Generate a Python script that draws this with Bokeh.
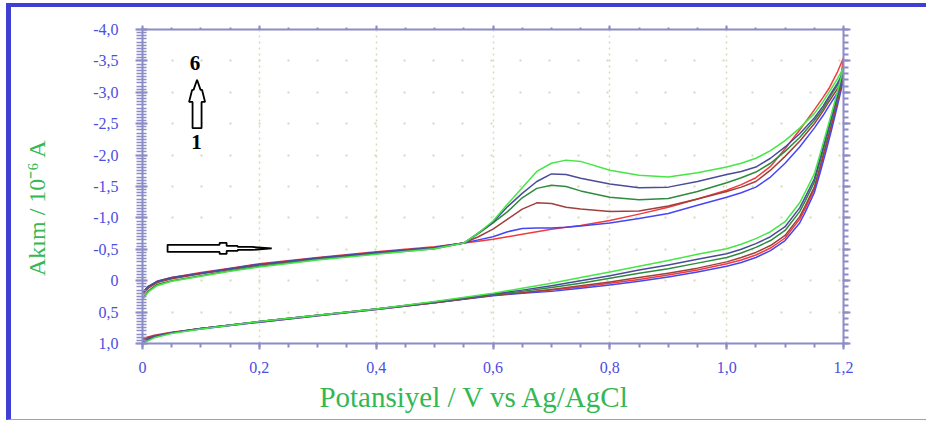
from bokeh.plotting import figure
from bokeh.models import (Range1d, LinearAxis, FixedTicker, Label, CustomJSTickFormatter,
                          CustomLabelingPolicy)
from bokeh.embed import file_html
from bokeh.resources import INLINE
import numpy as np

# Potential grid (V vs Ag/AgCl) for the anodic (forward) and cathodic (reverse) sweeps
potential_fwd = [0.0, 0.01, 0.025, 0.05, 0.1, 0.15, 0.2, 0.3, 0.4, 0.5, 0.55, 0.575, 0.6, 0.625,
                 0.65, 0.675, 0.7, 0.725, 0.75, 0.8, 0.85, 0.9, 0.95, 1.0, 1.025, 1.05, 1.075,
                 1.1, 1.125, 1.15, 1.165, 1.175, 1.19, 1.2]
potential_rev = [1.2, 1.19, 1.18, 1.17, 1.16, 1.15, 1.135, 1.125, 1.1, 1.075, 1.05, 1.025, 1.0,
                 0.95, 0.9, 0.85, 0.8, 0.75, 0.7, 0.65, 0.6, 0.5, 0.4, 0.3, 0.2, 0.1, 0.05, 0.02, 0.0]

# Current (10^-6 A) for the six successive cycles, forward sweep
fwd_c1 = [0.19, 0.09, 0.01, -0.05, -0.13, -0.20, -0.27, -0.37, -0.46, -0.54, -0.60, -0.63, -0.66,
          -0.70, -0.74, -0.78, -0.82, -0.85, -0.88, -0.96, -1.06, -1.17, -1.30, -1.44, -1.53, -1.64,
          -1.82, -2.10, -2.40, -2.72, -2.92, -3.06, -3.33, -3.55]
fwd_c2 = [0.20, 0.10, 0.02, -0.04, -0.12, -0.19, -0.26, -0.36, -0.45, -0.53, -0.60, -0.65, -0.70,
          -0.78, -0.83, -0.84, -0.84, -0.85, -0.87, -0.92, -0.99, -1.07, -1.20, -1.33, -1.40, -1.49,
          -1.65, -1.87, -2.13, -2.43, -2.63, -2.78, -3.00, -3.20]
fwd_c3 = [0.22, 0.12, 0.03, -0.03, -0.11, -0.18, -0.25, -0.35, -0.44, -0.52, -0.60, -0.70, -0.82,
          -0.98, -1.14, -1.24, -1.23, -1.17, -1.14, -1.10, -1.11, -1.19, -1.30, -1.42, -1.49, -1.58,
          -1.76, -1.98, -2.22, -2.50, -2.70, -2.85, -3.06, -3.25]
fwd_c4 = [0.28, 0.16, 0.06, 0.00, -0.08, -0.16, -0.23, -0.34, -0.43, -0.51, -0.60, -0.75, -0.92,
          -1.10, -1.32, -1.47, -1.52, -1.50, -1.43, -1.33, -1.29, -1.31, -1.42, -1.56, -1.64, -1.73,
          -1.87, -2.06, -2.28, -2.55, -2.74, -2.90, -3.12, -3.31]
fwd_c5 = [0.19, 0.09, 0.01, -0.05, -0.12, -0.19, -0.26, -0.36, -0.45, -0.53, -0.60, -0.76, -0.93,
          -1.18, -1.39, -1.58, -1.70, -1.69, -1.63, -1.54, -1.48, -1.49, -1.58, -1.69, -1.74, -1.81,
          -1.95, -2.13, -2.34, -2.59, -2.78, -2.93, -3.15, -3.33]
fwd_c6 = [0.30, 0.18, 0.08, 0.01, -0.07, -0.15, -0.22, -0.33, -0.42, -0.51, -0.60, -0.76, -0.95,
          -1.22, -1.48, -1.74, -1.87, -1.92, -1.90, -1.76, -1.68, -1.65, -1.72, -1.81, -1.87, -1.95,
          -2.07, -2.23, -2.43, -2.66, -2.85, -3.00, -3.22, -3.39]

# Reverse sweep
rev_c1 = [-3.55, -2.86, -2.48, -2.13, -1.78, -1.45, -1.16, -0.98, -0.68, -0.52, -0.41, -0.33, -0.27,
          -0.17, -0.09, -0.02, 0.04, 0.10, 0.15, 0.19, 0.23, 0.35, 0.46, 0.56, 0.66, 0.76, 0.82, 0.87, 0.92]
rev_c2 = [-3.20, -2.80, -2.42, -2.06, -1.72, -1.40, -1.10, -0.92, -0.64, -0.48, -0.37, -0.29, -0.23,
          -0.14, -0.06, 0.01, 0.07, 0.12, 0.17, 0.20, 0.24, 0.35, 0.46, 0.56, 0.66, 0.77, 0.83, 0.88, 0.93]
rev_c3 = [-3.25, -2.87, -2.51, -2.17, -1.82, -1.49, -1.20, -1.02, -0.72, -0.56, -0.45, -0.37, -0.30,
          -0.20, -0.12, -0.05, 0.02, 0.08, 0.14, 0.19, 0.23, 0.35, 0.45, 0.55, 0.65, 0.76, 0.83, 0.88, 0.93]
rev_c4 = [-3.31, -2.93, -2.58, -2.24, -1.90, -1.57, -1.28, -1.10, -0.80, -0.64, -0.53, -0.44, -0.37,
          -0.28, -0.19, -0.12, -0.04, 0.04, 0.11, 0.17, 0.22, 0.34, 0.45, 0.55, 0.65, 0.76, 0.83, 0.90, 0.98]
rev_c5 = [-3.33, -2.96, -2.62, -2.29, -1.95, -1.62, -1.34, -1.16, -0.86, -0.70, -0.59, -0.50, -0.43,
          -0.34, -0.25, -0.17, -0.08, 0.00, 0.08, 0.15, 0.21, 0.34, 0.45, 0.55, 0.65, 0.76, 0.83, 0.89, 0.96]
rev_c6 = [-3.39, -3.02, -2.68, -2.35, -2.02, -1.70, -1.42, -1.24, -0.94, -0.78, -0.67, -0.58, -0.51,
          -0.42, -0.32, -0.23, -0.14, -0.05, 0.04, 0.12, 0.20, 0.33, 0.45, 0.55, 0.65, 0.77, 0.84, 0.91, 1.00]

cycle_colors = ["#f03c3c", "#4646f5", "#a0403c", "#2e8b3e", "#4b4b9b", "#46e646"]

x_major = [0.0, 0.2, 0.4, 0.6, 0.8, 1.0, 1.2]
y_major = [-4.0, -3.5, -3.0, -2.5, -2.0, -1.5, -1.0, -0.5, 0.0, 0.5, 1.0]

AXIS_COL = "#8c8cc8"
TICK_TXT = "#4d4de0"
LABEL_COL = "#33b854"
GRID_COL = "#d4dbb8"
FRAME_BLUE = "#3f3fd2"

p = figure(width=920, height=417,
           x_range=Range1d(0, 1.2), y_range=Range1d(1.0, -4.0),
           output_backend="svg", toolbar_location=None,
           min_border_left=131, min_border_right=88, min_border_top=22, min_border_bottom=81,
           background_fill_color="white", border_fill_color="white")
p.outline_line_color = None
p.styles = {"margin-left": "6px", "margin-top": "3px",
            "border-left": f"5px solid {FRAME_BLUE}",
            "border-top": f"4px solid {FRAME_BLUE}",
            "border-bottom": "1px solid #9a9ae8"}

fmt = CustomJSTickFormatter(code="""
    if (Math.abs(tick) < 1e-9) { return "0"; }
    return tick.toFixed(1).replace(".", ",");
""")

# frame axes on the top and right carry ticks only
no_labels = CustomLabelingPolicy(code="""
    for (let i = 0; i < indices.size; i++) { indices.unset(i) }
    return indices
""")

x_minor = [round(v, 2) for v in np.arange(0, 1.2001, 0.05)]
y_minor_fine = [round(v, 2) for v in np.arange(-4.0, 1.0001, 0.05)]
y_minor_coarse = [round(v, 2) for v in np.arange(-4.0, 1.0001, 0.1)]

# Bottom axis
xa = p.xaxis[0]
xa.ticker = FixedTicker(ticks=x_major, minor_ticks=x_minor)
xa.formatter = fmt
xa.axis_label = "Potansiyel / V vs Ag/AgCl" + "\u00a0" * 5
xa.axis_label_text_font = "Liberation Serif"
xa.axis_label_text_font_style = "normal"
xa.axis_label_text_font_size = "29px"
xa.axis_label_text_color = LABEL_COL
xa.axis_label_standoff = 5
xa.major_label_text_font = "Liberation Serif"
xa.major_label_text_font_size = "16px"
xa.major_label_text_color = TICK_TXT
xa.major_label_standoff = 12
xa.axis_line_color = AXIS_COL
xa.axis_line_width = 2
xa.major_tick_line_color = AXIS_COL
xa.minor_tick_line_color = AXIS_COL
xa.major_tick_line_width = 2
xa.minor_tick_line_width = 2
xa.major_tick_out = 6
xa.major_tick_in = 1
xa.minor_tick_out = 4
xa.minor_tick_in = 0

# Left axis
ya = p.yaxis[0]
ya.ticker = FixedTicker(ticks=y_major, minor_ticks=y_minor_fine)
ya.formatter = fmt
ya.axis_label = "Akım / 10⁻⁶ A" + "\u00a0" * 7
ya.axis_label_text_font = "Liberation Serif"
ya.axis_label_text_font_style = "normal"
ya.axis_label_text_font_size = "24px"
ya.axis_label_text_color = LABEL_COL
ya.axis_label_standoff = 40
ya.major_label_text_font = "Liberation Serif"
ya.major_label_text_font_size = "16px"
ya.major_label_text_color = TICK_TXT
ya.major_label_standoff = 17
ya.axis_line_color = AXIS_COL
ya.axis_line_width = 2
ya.major_tick_line_color = AXIS_COL
ya.minor_tick_line_color = AXIS_COL
ya.major_tick_line_width = 2
ya.minor_tick_line_width = 1.5
ya.major_tick_out = 7
ya.major_tick_in = 5
ya.minor_tick_out = 6
ya.minor_tick_in = 4

ra = LinearAxis(ticker=FixedTicker(ticks=y_major, minor_ticks=y_minor_coarse),
                major_label_policy=no_labels,
                major_label_text_font_size="0px", major_label_standoff=0,
                axis_line_color=AXIS_COL, axis_line_width=2,
                major_tick_line_color=AXIS_COL, minor_tick_line_color=AXIS_COL,
                major_tick_line_width=2, minor_tick_line_width=2,
                major_tick_out=7, major_tick_in=1, minor_tick_out=5, minor_tick_in=0)
p.add_layout(ra, "right")
ta = LinearAxis(ticker=FixedTicker(ticks=x_major, minor_ticks=x_minor),
                major_label_policy=no_labels,
                major_label_text_font_size="0px", major_label_standoff=0,
                axis_line_color=AXIS_COL, axis_line_width=2,
                major_tick_line_color=AXIS_COL, minor_tick_line_color=AXIS_COL,
                major_tick_line_width=2, minor_tick_line_width=2,
                major_tick_out=4, major_tick_in=0, minor_tick_out=2, minor_tick_in=0)
p.add_layout(ta, "above")

# Dotted grid
p.xgrid.ticker = FixedTicker(ticks=x_major)
p.xgrid.grid_line_color = GRID_COL
p.xgrid.grid_line_dash = "2 4"
p.xgrid.grid_line_width = 1.5
p.ygrid.ticker = FixedTicker(ticks=y_major)
p.ygrid.grid_line_color = GRID_COL
p.ygrid.grid_line_dash = "2 27"
p.ygrid.grid_line_width = 2

# Voltammograms: each cycle is the forward sweep followed by the reverse sweep
fwd_all = [fwd_c1, fwd_c2, fwd_c3, fwd_c4, fwd_c5, fwd_c6]
rev_all = [rev_c1, rev_c2, rev_c3, rev_c4, rev_c5, rev_c6]
for fwd, rev, col in zip(fwd_all, rev_all, cycle_colors):
    p.line(potential_fwd + potential_rev[1:], fwd + rev[1:], line_color=col, line_width=1.5,
           line_join="round")

# Scan-direction arrow (hollow, pointing right)
harrow_x = [0.0429, 0.1320, 0.1320, 0.1440, 0.1440, 0.1629, 0.1629, 0.1869, 0.2212,
            0.1869, 0.1629, 0.1629, 0.1440, 0.1440, 0.1320, 0.1320, 0.0429]
harrow_y = [-0.571, -0.571, -0.603, -0.603, -0.554, -0.554, -0.538, -0.538, -0.514,
            -0.490, -0.490, -0.474, -0.474, -0.426, -0.426, -0.458, -0.458]
p.patch(harrow_x, harrow_y, fill_color="white", line_color="black", line_width=1.8)

# Cycle-growth arrow 1 -> 6
varrow_x = [0.0934, 0.0994, 0.1020, 0.1071, 0.1011, 0.1011, 0.0857, 0.0857, 0.0797, 0.0849, 0.0874]
varrow_y = [-3.199, -3.038, -3.038, -2.846, -2.846, -2.429, -2.429, -2.846, -2.846, -3.038, -3.038]
p.patch(varrow_x, varrow_y, fill_color="white", line_color="black", line_width=1.8)

for txt, lx, ly in [("6", 0.0900, -3.47), ("1", 0.0926, -2.205)]:
    p.add_layout(Label(x=lx, y=ly, text=txt, text_font="Liberation Serif",
                       text_font_style="bold", text_font_size="21px",
                       text_align="center", text_baseline="middle", text_color="black"))

open("out.html", "w").write(file_html(p, INLINE))
